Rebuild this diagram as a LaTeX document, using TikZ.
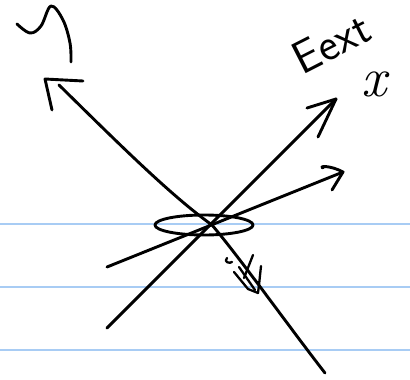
\documentclass[tikz,border=0pt]{standalone}
\usepackage{tikz}
\usetikzlibrary{calc}
\definecolor{ink}{HTML}{000000}
\definecolor{rule}{HTML}{A8CCF4}
\tikzset{
  pen/.style   ={draw=ink, line width=2.9pt, line cap=round, line join=round},
  fine/.style  ={pen, line width=2.3pt},
  ruled/.style ={draw=rule, line width=1.3pt},
  scrawl/.style={font=\sffamily\fontsize{46}{46}\selectfont, inner sep=0pt},
}
\begin{document}
\begin{tikzpicture}[x=1pt, y=-1pt]
  \useasboundingbox (0,0) rectangle (410,380);
  % ruled paper
  \foreach \yy in {224,287,350}
    \draw[ruled] (0,\yy) -- (410,\yy);
  % points
  \coordinate (O)   at (212,225);
  \coordinate (inS) at (59,85);
  \coordinate (inT) at (45,79);
  \coordinate (outE) at (325,373);
  \coordinate (aS)  at (107,328);
  \coordinate (aT)  at (336,99);
  \coordinate (bS)  at (107,267);
  \coordinate (bT)  at (343,172);
  % rays
  \draw[pen] (inS) .. controls (115,140) and (170,195) .. (O)
             .. controls (240,258) and (290,328) .. (outE);
  \draw[pen] (aS) -- (aT);
  \draw[pen] (bS) -- (bT);
  % arrow heads
  \draw[pen] (83,81) -- (inT) -- (52,110);
  \draw[pen] (307,108) -- (aT) -- (318,137);
  \draw[pen] (323,168) .. controls (318,166) and (330,165) .. (bT) -- (332,190);
  % ellipse round the crossing
  \draw[pen] (O) ++(-8,0) ellipse[x radius=49, y radius=10];
  % small mark on the ray
  \draw[fine] (227,258) .. controls (223,262) and (230,264) .. (232,262);
  \draw[fine] (253,255) -- (244,278);
  \draw[fine] (234,272) -- (248,289) -- (258,293);
  \draw[fine] (261,266) -- (259,285) -- (258,293);
  \draw[fine] (239,267) -- (255,290);
  % label top left
  \draw[pen] plot[smooth, tension=0.6] coordinates
    {(17,24) (30,33) (41,26) (51,6) (63,20) (70,43) (71,62)};
  % labels top right
  \node[scrawl, rotate=27] (eext) at (331,43) {Eext};
  \node[scrawl, font=\fontsize{56}{56}\selectfont] (xx) at (376,84) {\textit{x}};
\end{tikzpicture}
\end{document}
